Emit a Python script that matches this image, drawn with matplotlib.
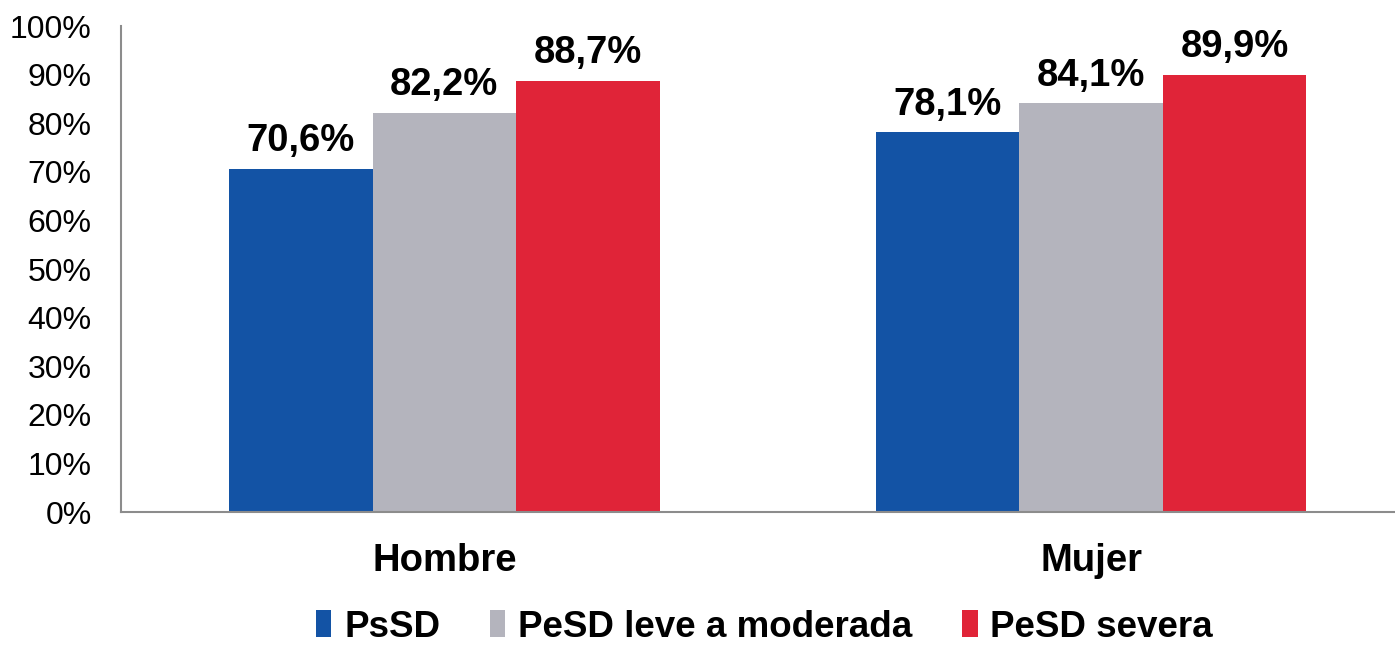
import numpy as np
import matplotlib.pyplot as plt

plt.rcParams['font.family'] = ['Liberation Sans', 'DejaVu Sans']

# Data
categories = ['Hombre', 'Mujer']
series_names = ['PsSD', 'PeSD leve a moderada', 'PeSD severa']
psSD = [70.6, 78.1]
pesd_leve = [82.2, 84.1]
pesd_severa = [88.7, 89.9]
colors = ['#1353A5', '#B4B4BD', '#E02438']

values = [psSD, pesd_leve, pesd_severa]

fig = plt.figure(figsize=(13.95, 6.5), dpi=100)
ax = fig.add_axes([0.0867, 0.2123, 0.9133, 0.7477])

x = np.arange(len(categories))
width = 0.222
for i, (name, vals, col) in enumerate(zip(series_names, values, colors)):
    pos = x + (i - 1) * width
    bars = ax.bar(pos, vals, width, color=col, label=name, zorder=2)
    for b, v in zip(bars, vals):
        ax.annotate(('%.1f%%' % v).replace('.', ','),
                    (b.get_x() + b.get_width() / 2, v),
                    xytext=(0, 7), textcoords='offset points',
                    ha='center', va='bottom', fontsize=27.5, fontweight='bold')

ax.set_ylim(0, 100)
ax.set_xlim(-0.5, 1.47)
ax.set_yticks(np.arange(0, 101, 10))
ax.set_yticklabels(['%d%%' % t for t in range(0, 101, 10)])
ax.tick_params(axis='y', length=0, labelsize=23, pad=21)
ax.set_xticks(x)
ax.set_xticklabels(categories, fontsize=27.5, fontweight='bold')
ax.tick_params(axis='x', length=0, pad=22)

for s in ['top', 'right']:
    ax.spines[s].set_visible(False)
ax.spines['left'].set_color('#8C8C8C')
ax.spines['bottom'].set_color('#8C8C8C')
ax.spines['left'].set_linewidth(1.5)
ax.spines['bottom'].set_linewidth(1.5)

leg = fig.legend(loc='center', bbox_to_anchor=(0.548, 0.035), ncol=3,
                 frameon=False, handlelength=0.42, handleheight=0.75,
                 handletextpad=0.35, columnspacing=1.35,
                 borderpad=0.1, prop={'weight': 'bold', 'size': 26.5})

fig.savefig('out.png', dpi=100)
